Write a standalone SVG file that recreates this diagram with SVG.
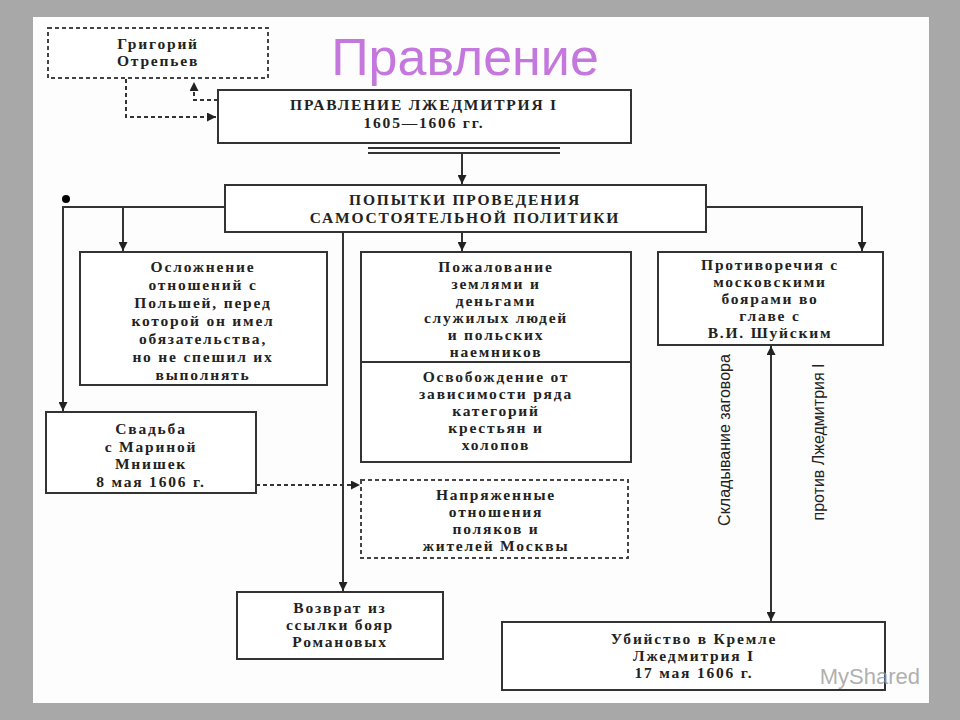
<svg xmlns="http://www.w3.org/2000/svg" width="960" height="720" viewBox="0 0 960 720">
<defs>
<marker id="ah" viewBox="0 0 10 10" refX="10" refY="5" markerWidth="9" markerHeight="9" markerUnits="userSpaceOnUse" orient="auto-start-reverse"><path d="M0,0 L10,5 L0,10 z" fill="#222"/></marker>
</defs>
<style>
.b{fill:#fff;stroke:#333;stroke-width:2}
.d{fill:#fff;stroke:#444;stroke-width:2;stroke-dasharray:4 3}
.t{font-family:"Liberation Serif",serif;font-weight:bold;font-size:15.5px;fill:#222;text-anchor:middle;letter-spacing:1.8px}
.c{fill:none;stroke:#333;stroke-width:2}
.cd{fill:none;stroke:#333;stroke-width:2;stroke-dasharray:4 3}
.v{font-family:"Liberation Sans Narrow","Liberation Sans",sans-serif;font-size:16px;fill:#222;text-anchor:middle;font-stretch:condensed}
</style>
<rect width="960" height="720" fill="#a8a8a8"/>
<rect x="33" y="17" width="896" height="686" fill="#fdfdfd"/>
<text x="465" y="75" font-family="Liberation Sans,Arial,sans-serif" font-size="52" fill="#c477dc" text-anchor="middle">Правление</text>
<circle cx="66" cy="199" r="4" fill="#000"/>
<g id="connectors">
<path class="cd" d="M218,100 H194 V82" marker-end="url(#ah)"/>
<path class="cd" d="M126,79 V117 H216" marker-end="url(#ah)"/>
<path class="c" d="M368,148 H560 M368,153 H560"/>
<path class="c" d="M462,153 V184" marker-end="url(#ah)"/>
<path class="c" d="M225,207 H63 V411" marker-end="url(#ah)"/>
<path class="c" d="M123,207 V251" marker-end="url(#ah)"/>
<path class="c" d="M343,232 V591" marker-end="url(#ah)"/>
<path class="c" d="M462,232 V251" marker-end="url(#ah)"/>
<path class="c" d="M706,207 H862 V251" marker-end="url(#ah)"/>
<path class="c" d="M771,346 V621" marker-start="url(#ah)" marker-end="url(#ah)"/>
<path class="cd" d="M256,485 H360" marker-end="url(#ah)"/>
<text class="v" transform="translate(730,440) rotate(-90)">Складывание заговора</text>
<text class="v" transform="translate(824,442) rotate(-90)">против Лжедмитрия I</text>
</g>
<g id="otrepiev"><rect class="d" x="48" y="28" width="220" height="50"/>
<text class="t" x="158" y="49">Григорий</text><text class="t" x="158" y="66">Отрепьев</text></g>
<g id="main"><rect class="b" x="218" y="90" width="413" height="53"/>
<text class="t" x="424" y="110">ПРАВЛЕНИЕ ЛЖЕДМИТРИЯ I</text><text class="t" x="424" y="128">1605—1606 гг.</text></g>
<g id="popytki"><rect class="b" x="225" y="185" width="481" height="47"/>
<text class="t" x="465" y="205">ПОПЫТКИ ПРОВЕДЕНИЯ</text><text class="t" x="465" y="223">САМОСТОЯТЕЛЬНОЙ ПОЛИТИКИ</text></g>
<g id="oslozhnenie"><rect class="b" x="80" y="252" width="247" height="133"/>
<text class="t" x="203" y="272">Осложнение</text><text class="t" x="203" y="290">отношений с</text><text class="t" x="203" y="308">Польшей, перед</text><text class="t" x="203" y="326">которой он имел</text><text class="t" x="203" y="344">обязательства,</text><text class="t" x="203" y="362">но не спешил их</text><text class="t" x="203" y="380">выполнять</text></g>
<g id="pozhalovanie"><rect class="b" x="361" y="252" width="270" height="110"/>
<text class="t" x="496" y="272">Пожалование</text><text class="t" x="496" y="289">землями и</text><text class="t" x="496" y="306">деньгами</text><text class="t" x="496" y="323">служилых людей</text><text class="t" x="496" y="340">и польских</text><text class="t" x="496" y="357">наемников</text></g>
<g id="osvobozhdenie"><rect class="b" x="361" y="362" width="270" height="100"/>
<text class="t" x="496" y="382">Освобождение от</text><text class="t" x="496" y="399">зависимости ряда</text><text class="t" x="496" y="416">категорий</text><text class="t" x="496" y="433">крестьян и</text><text class="t" x="496" y="450">холопов</text></g>
<g id="protivorechia"><rect class="b" x="658" y="252" width="225" height="93"/>
<text class="t" x="770" y="270">Противоречия с</text><text class="t" x="770" y="287">московскими</text><text class="t" x="770" y="304">боярами во</text><text class="t" x="770" y="321">главе с</text><text class="t" x="770" y="338">В.И. Шуйским</text></g>
<g id="svadba"><rect class="b" x="46" y="412" width="210" height="81"/>
<text class="t" x="151" y="434">Свадьба</text><text class="t" x="151" y="452">с Мариной</text><text class="t" x="151" y="469">Мнишек</text><text class="t" x="151" y="487">8 мая 1606 г.</text></g>
<g id="napryazhennye"><rect class="d" x="361" y="480" width="267" height="78"/>
<text class="t" x="496" y="500">Напряженные</text><text class="t" x="496" y="517">отношения</text><text class="t" x="496" y="534">поляков и</text><text class="t" x="496" y="551">жителей Москвы</text></g>
<g id="vozvrat"><rect class="b" x="237" y="592" width="206" height="67"/>
<text class="t" x="340" y="613">Возврат из</text><text class="t" x="340" y="630">ссылки бояр</text><text class="t" x="340" y="647">Романовых</text></g>
<g id="ubiystvo"><rect class="b" x="502" y="622" width="383" height="68"/>
<text class="t" x="694" y="644">Убийство в Кремле</text><text class="t" x="694" y="661">Лжедмитрия I</text><text class="t" x="694" y="678">17 мая 1606 г.</text></g>
<text x="920" y="684" font-family="Liberation Sans,Arial,sans-serif" font-size="22" fill="#9a9a9a" fill-opacity="0.8" text-anchor="end">MyShared</text>
</svg>
